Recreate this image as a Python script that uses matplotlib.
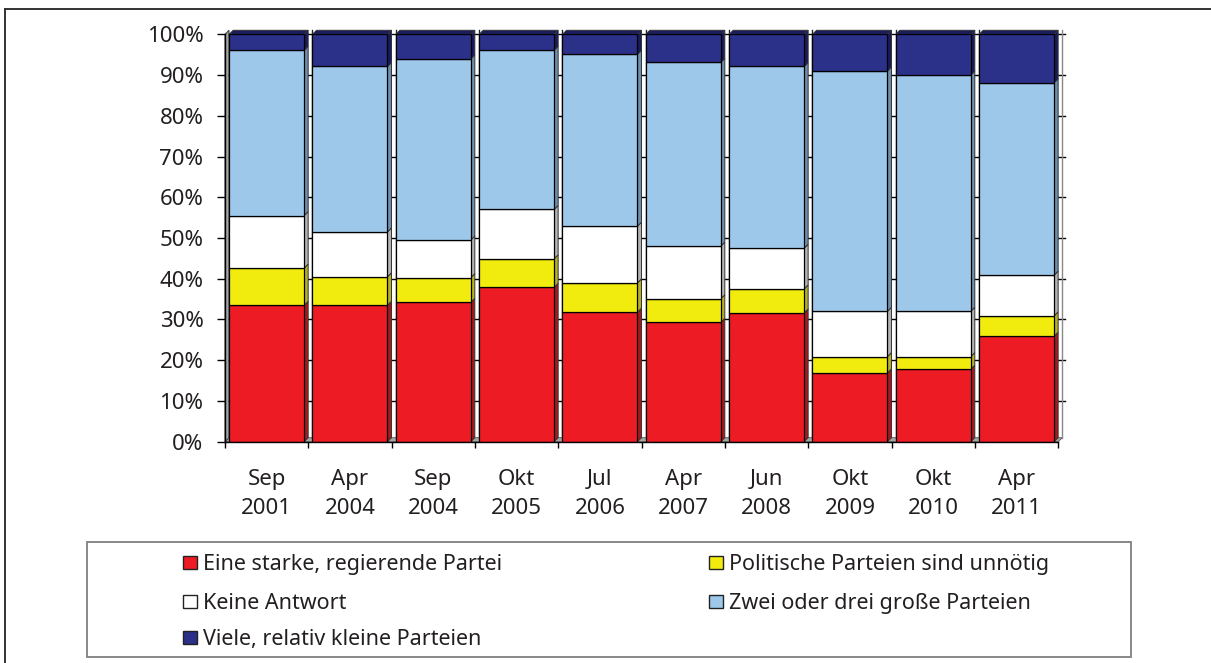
import matplotlib
matplotlib.use("Agg")
import matplotlib.pyplot as plt
import matplotlib.patches as mpatches
from matplotlib.lines import Line2D
import numpy as np

# ---------------------------------------------------------------------------
# Data (shares in %, bottom to top)
# ---------------------------------------------------------------------------
months = ["Sep", "Apr", "Sep", "Okt", "Jul", "Apr", "Jun", "Okt", "Okt", "Apr"]
years = ["2001", "2004", "2004", "2005", "2006", "2007", "2008", "2009", "2010", "2011"]

eine_starke = [33.5, 33.5, 34.2, 37.9, 31.8, 29.3, 31.6, 16.9, 17.8, 25.9]
unnoetig = [9.1, 7.0, 6.1, 7.0, 7.2, 5.8, 5.9, 4.0, 3.1, 5.0]
keine_antwort = [12.9, 11.0, 9.2, 12.1, 13.9, 12.9, 10.0, 11.1, 11.1, 10.0]
zwei_drei = [40.6, 40.6, 44.5, 39.1, 42.2, 45.1, 44.6, 59.0, 58.0, 47.2]
viele_kleine = [3.9, 7.9, 6.0, 3.9, 4.9, 6.9, 7.9, 9.0, 10.0, 11.9]

series_names = [
    "Eine starke, regierende Partei",
    "Politische Parteien sind unnötig",
    "Keine Antwort",
    "Zwei oder drei große Parteien",
    "Viele, relativ kleine Parteien",
]
series_values = [eine_starke, unnoetig, keine_antwort, zwei_drei, viele_kleine]

# front / side face colours per series
FRONT = ["#ED1C24", "#F2EB0E", "#FFFFFF", "#9DC8EA", "#2B3089"]
SIDE = ["#A8191E", "#B5B02A", "#B3B3B3", "#6C8FAE", "#191C5C"]
TEXT = "#231F20"

W, H, DPI = 1211, 663, 100
FONT = "Noto Sans"
FS = 16
FS_LEG = 15.5

fig = plt.figure(figsize=(W / DPI, H / DPI), dpi=DPI)
fig.patch.set_facecolor("white")

# axes placed in pixel terms
x0, x1 = 225, 1058.3
y_bot, y_top = 441.7, 34.3
ax = fig.add_axes([x0 / W, 1 - y_bot / H, (x1 - x0) / W, (y_bot - y_top) / H])
ax.set_xlim(-0.5, 9.5)
ax.set_ylim(0, 100)

n = len(months)
x = np.arange(n)
BW = 0.9
DX = 4 / ((x1 - x0) / n)           # depth offset in category units
DY = 4 / ((y_bot - y_top) / 100)   # depth offset in percent

# back wall: floor, left wall, grid lines, slot separators
floor = mpatches.Polygon([(-0.5, 0), (-0.5 + DX, DY), (9.5 + DX, DY), (9.5, 0)],
                         closed=True, facecolor="#A6A6A6", edgecolor="#555555",
                         lw=0.6, zorder=1, clip_on=False)
ax.add_patch(floor)
wall = mpatches.Polygon([(-0.5, 0), (-0.5 + DX, DY), (-0.5 + DX, 100 + DY), (-0.5, 100)],
                        closed=True, facecolor="#A6A6A6", edgecolor="#444444",
                        lw=0.8, zorder=1, clip_on=False)
ax.add_patch(wall)
for g in range(10, 101, 10):
    ax.plot([-0.5 + DX, 9.5 + DX + 0.03], [g, g], color="black", lw=1.0,
            zorder=1, clip_on=False)
for b in np.arange(-0.5, 9.6, 1.0)[1:]:
    ax.plot([b + DX, b + DX], [DY, 100 + DY], color="#222222" if b < 9.5 else "#888888",
            lw=1.0, zorder=1, clip_on=False)

# stacked 3D-looking columns
bottom = np.zeros(n)
for k, vals in enumerate(series_values):
    vals = np.asarray(vals)
    bars = ax.bar(x, vals, BW, bottom=bottom, color=FRONT[k], edgecolor="black",
                  lw=0.9, zorder=3)
    for i, rect in enumerate(bars):
        right = rect.get_x() + rect.get_width()
        yb, yt = bottom[i], bottom[i] + vals[i]
        side = mpatches.Polygon([(right, yb), (right + DX, yb + DY),
                                 (right + DX, yt + DY), (right, yt)],
                                closed=True, facecolor=SIDE[k], edgecolor="#333333",
                                lw=0.7, zorder=2.5, clip_on=False)
        ax.add_patch(side)
        if k == len(series_values) - 1:
            left = rect.get_x()
            top = mpatches.Polygon([(left, yt), (left + DX, yt + DY),
                                    (right + DX, yt + DY), (right, yt)],
                                   closed=True, facecolor=SIDE[k], edgecolor="#333333",
                                   lw=0.7, zorder=2.5, clip_on=False)
            ax.add_patch(top)
    bottom = bottom + vals

# axes styling
for s in ["top", "right"]:
    ax.spines[s].set_visible(False)
for s in ["left", "bottom"]:
    ax.spines[s].set_color("black")
    ax.spines[s].set_linewidth(1.0)
    ax.spines[s].set_zorder(4)

ax.set_yticks(np.arange(0, 101, 10))
ax.set_yticklabels([f"{v}%" for v in range(0, 101, 10)])
ax.tick_params(axis="y", direction="out", length=5.5, width=1.0, pad=10,
               labelsize=FS, labelcolor=TEXT)

ax.set_xticks(np.arange(-0.5, 9.6, 1.0))
ax.set_xticklabels([])
ax.set_xticks(x, minor=True)
ax.set_xticklabels([f"{m}\n{y}" for m, y in zip(months, years)], minor=True)
ax.tick_params(axis="x", which="major", direction="out", length=4.5, width=1.0)
ax.tick_params(axis="x", which="minor", length=0, pad=20, labelsize=FS,
               labelcolor=TEXT)
for lbl in ax.get_xticklabels(minor=True) + ax.get_yticklabels():
    lbl.set_family(FONT)
for lbl in ax.get_xticklabels(minor=True):
    lbl.set_linespacing(1.45)

# legend block drawn in pixel positions
def px(xp, yp):
    return xp / W, 1 - yp / H

lx, ly = px(87, 542)
fig.add_artist(mpatches.Rectangle((lx, 1 - 657 / H), (1131 - 87) / W, (657 - 542) / H,
                                  transform=fig.transFigure, facecolor="white",
                                  edgecolor="#7F7F7F", lw=1.3))
legend_pos = [(183, 562), (709, 562), (183, 601), (709, 601), (183, 637)]
for k, (name, (hx, hy)) in enumerate(zip(series_names, legend_pos)):
    sx, sy = px(hx, hy + 6.5)
    fig.add_artist(mpatches.Rectangle((sx, sy), 14 / W, 13 / H,
                                      transform=fig.transFigure, facecolor=FRONT[k],
                                      edgecolor="#222222", lw=1.0))
    tx, ty = px(hx + 20, hy)
    fig.text(tx, ty, name, ha="left", va="center_baseline", fontsize=FS_LEG,
             family=FONT, color=TEXT)

# outer frame (top and left edges)
fig.add_artist(Line2D([5 / W, 1.0], [1 - 9 / H, 1 - 9 / H], transform=fig.transFigure,
                      color="#333333", lw=1.4))
fig.add_artist(Line2D([5 / W, 5 / W], [0, 1 - 9 / H], transform=fig.transFigure,
                      color="#333333", lw=1.4))

fig.savefig("out.png", dpi=DPI, facecolor=fig.get_facecolor())
